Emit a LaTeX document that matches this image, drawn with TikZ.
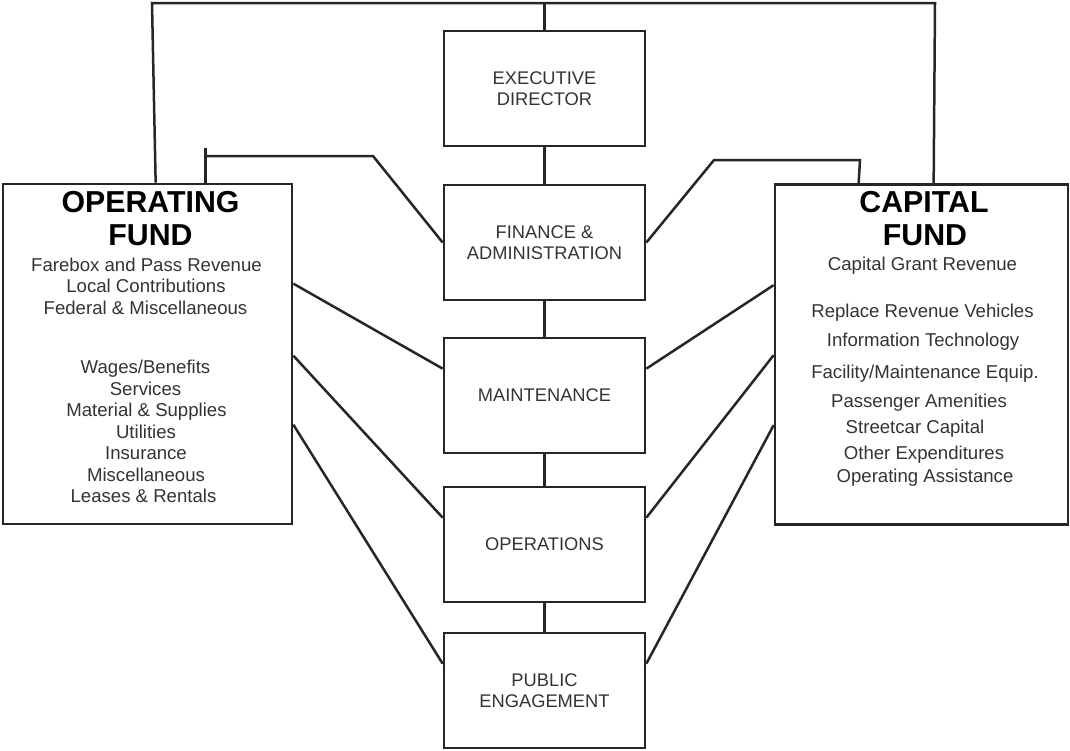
\documentclass[tikz,border=0pt]{standalone}
\usepackage{fontspec}
\setmainfont{Liberation Sans}
\definecolor{linec}{HTML}{262626}
\definecolor{textc}{HTML}{333333}
\newcommand{\unitfont}{\fontsize{18.3}{21.6}\selectfont}
\newcommand{\itemfont}{\fontsize{18.6}{21.6}\selectfont}
\newcommand{\titlefont}{\fontsize{30.3}{33}\selectfont\bfseries}
\begin{document}
\begin{tikzpicture}[x=1pt,y=-1pt,
  unitbox/.style={draw=linec, line width=2.7pt, minimum width=201pt,
    minimum height=115pt, align=center, font=\unitfont, text=textc, inner sep=0pt},
  fundbox/.style={draw=linec, line width=2.7pt, minimum height=340pt, inner sep=0pt},
  link/.style={draw=linec, line width=2.5pt},
  item/.style={anchor=base, font=\itemfont, text=textc, inner sep=0pt},
  fundtitle/.style={anchor=base, font=\titlefont, text=black, inner sep=0pt}]
\useasboundingbox (0,0) rectangle (1070,750);

% departments in the middle column
\node[unitbox] (exec)  at (544.5,88.5)  {EXECUTIVE\\DIRECTOR};
\node[unitbox] (fin)   at (544.5,242.5) {FINANCE \&\\ADMINISTRATION};
\node[unitbox] (maint) at (544.5,395.5) {MAINTENANCE};
\node[unitbox] (ops)   at (544.5,544.5) {OPERATIONS};
\node[unitbox] (pub)   at (544.5,690.5) {PUBLIC\\ENGAGEMENT};

% the two funds
\node[fundbox, minimum width=289pt] (opfund)  at (147.5,354) {};
\node[fundbox, minimum width=293pt] (capfund) at (921.5,354.5) {};

% operating fund text
\node[fundtitle] (opt1) at (150.5,212) {OPERATING};
\node[fundtitle] (opt2) at (150.5,245) {FUND};
\node[item] (op1)  at (146.5,271) {Farebox and Pass Revenue};
\node[item] (op2)  at (146,292.5) {Local Contributions};
\node[item] (op3)  at (145.5,314) {Federal \& Miscellaneous};
\node[item] (op4)  at (145.5,373.5) {Wages/Benefits};
\node[item] (op5)  at (145.5,395) {Services};
\node[item] (op6)  at (146.5,416.5) {Material \& Supplies};
\node[item] (op7)  at (146,438) {Utilities};
\node[item] (op8)  at (146,459.5) {Insurance};
\node[item] (op9)  at (146,481) {Miscellaneous};
\node[item] (op10) at (143.5,502.5) {Leases \& Rentals};

% capital fund text
\node[fundtitle] (cpt1) at (924,212) {CAPITAL};
\node[fundtitle] (cpt2) at (925,245) {FUND};
\node[item] (cp1) at (922.5,270) {Capital Grant Revenue};
\node[item] (cp2) at (922.5,317) {Replace Revenue Vehicles};
\node[item] (cp3) at (923,346) {Information Technology};
\node[item] (cp4) at (925,378) {Facility/Maintenance Equip.};
\node[item] (cp5) at (919,407) {Passenger Amenities};
\node[item] (cp6) at (915,433) {Streetcar Capital};
\node[item] (cp7) at (924,459) {Other Expenditures};
\node[item] (cp8) at (925,482) {Operating Assistance};

% chain of command down the middle
\draw[link] (exec.south)  -- (fin.north);
\draw[link] (fin.south)   -- (maint.north);
\draw[link] (maint.south) -- (ops.north);
\draw[link] (ops.south)   -- (pub.north);

% executive director to both funds
\coordinate (topL) at (152,3);
\coordinate (topR) at (935,3);
\draw[link] ([xshift=154pt]opfund.north west) -- (topL) -- (topR)
  -- ([xshift=160pt]capfund.north west);
\draw[link] (exec.north) -- (exec.north |- topL);

% finance & administration to both funds
\coordinate (tickL) at (207,156);
\coordinate (bendL) at (373,156);
\draw[link] ([xshift=204pt]opfund.north west) -- ++(0,-35);
\draw[link] (tickL) -- (bendL) -- (fin.west);
\coordinate (bendR) at (714,160);
\coordinate (cornerR) at (860,160);
\draw[link] (fin.east) -- (bendR) -- (cornerR) -- ([xshift=85pt]capfund.north west);

% operating fund to the departments
\draw[link] ([yshift=-101pt]opfund.north east) -- ([yshift=-32pt]maint.north west);
\draw[link] ([yshift=-173pt]opfund.north east) -- ([yshift=-32pt]ops.north west);
\draw[link] ([yshift=-242pt]opfund.north east) -- ([yshift=-32pt]pub.north west);

% capital fund to the departments
\draw[link] ([yshift=-32pt]maint.north east) -- ([yshift=-102pt]capfund.north west);
\draw[link] ([yshift=-32pt]ops.north east)   -- ([yshift=-172pt]capfund.north west);
\draw[link] ([yshift=-32pt]pub.north east)   -- ([yshift=-242pt]capfund.north west);
\end{tikzpicture}
\end{document}
